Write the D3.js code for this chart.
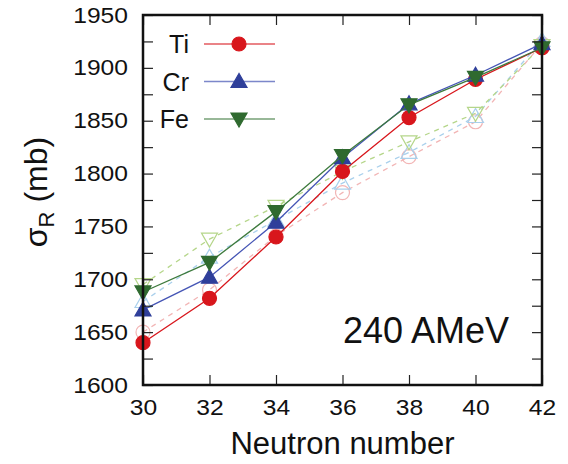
<!DOCTYPE html>
<html>
<head>
<meta charset="utf-8">
<script src="https://cdn.jsdelivr.net/npm/d3@7.9.0/dist/d3.min.js"></script>
<style>
  body { margin: 0; background: #fff; }
  text { font-family: "Liberation Sans", Arial, sans-serif; fill: #111; }
</style>
</head>
<body>
<svg id="chart" width="568" height="464"></svg>
<script>
// Neutron numbers and cross sections (mb)
const neutrons = [30, 32, 34, 36, 38, 40, 42];
const tiSolid = [1640, 1682, 1740, 1802, 1853, 1889, 1919];
const crSolid = [1671, 1702, 1754, 1815, 1866, 1893, 1923];
const feSolid = [1688, 1716, 1764, 1817, 1865, 1891, 1919];
const tiDashed = [1650, 1690, 1741, 1782, 1816, 1849, 1923];
const crDashed = [1679, 1721, 1756, 1791, 1820, 1854, 1926];
const feDashed = [1695, 1738, 1769, 1802, 1830, 1857, 1921];
const yTicks = [1600, 1650, 1700, 1750, 1800, 1850, 1900, 1950];

const svg = d3.select("#chart");
const plotL = 143, plotR = 542, plotT = 15, plotB = 385;
const stretch = 1.12; // reference font is a bit wider than Liberation Sans

const x = d3.scaleLinear().domain([30, 42]).range([plotL, plotR]);
const y = d3.scaleLinear().domain([1600, 1950]).range([plotB, plotT]);

// light (dashed) series first, then solid
const series = [
  { name: "Ti", vals: tiDashed, color: "#f2b5b5", shape: "circle", open: true, dash: "5,5" },
  { name: "Cr", vals: crDashed, color: "#a9d0ec", shape: "up", open: true, dash: "5,5" },
  { name: "Fe", vals: feDashed, color: "#b5d68a", shape: "down", open: true, dash: "5,5" },
  { name: "Ti", vals: tiSolid, color: "#d8161c", shape: "circle", open: false, legend: true },
  { name: "Cr", vals: crSolid, color: "#2f3f9a", line: "#4555b5", shape: "up", open: false, legend: true },
  { name: "Fe", vals: feSolid, color: "#2f6a2f", line: "#3d7a3d", shape: "down", open: false, legend: true }
];

function drawMarker(g, shape, cx, cy, color, open) {
  if (shape === "circle") {
    g.append("circle").attr("cx", cx).attr("cy", cy).attr("r", 7)
      .attr("fill", open ? "none" : color).attr("stroke", color).attr("stroke-width", 1.2);
  } else {
    const s = 8, dir = shape === "up" ? 1 : -1;
    const pts = [[cx, cy - dir * s], [cx - s, cy + dir * s * 0.75], [cx + s, cy + dir * s * 0.75]];
    g.append("path").attr("d", "M" + pts.join("L") + "Z")
      .attr("fill", open ? "none" : color).attr("stroke", color).attr("stroke-width", 1.2);
  }
}

const line = d3.line().x((d, i) => x(neutrons[i])).y(d => y(d));
const plot = svg.append("g");
series.forEach(s => {
  plot.append("path").attr("d", line(s.vals)).attr("fill", "none")
    .attr("stroke", s.line || s.color).attr("stroke-width", 1.3)
    .attr("stroke-dasharray", s.dash || null);
  s.vals.forEach((v, i) => drawMarker(plot, s.shape, x(neutrons[i]), y(v), s.color, s.open));
});

// axes with inward ticks
const minor = d3.range(1600, 1951, 25);
svg.append("g").attr("transform", `translate(0,${plotB})`)
  .call(d3.axisBottom(x).tickValues(neutrons).tickSize(-10).tickPadding(14))
  .call(g => g.select(".domain").remove())
  .call(g => g.selectAll("text").attr("font-size", 22).attr("transform", `scale(${stretch},1)`));
svg.append("g").attr("transform", `translate(0,${plotT})`)
  .call(d3.axisTop(x).tickValues(neutrons).tickSize(-10).tickFormat(""))
  .call(g => g.select(".domain").remove());
svg.append("g").attr("transform", `translate(${plotL},0)`)
  .call(d3.axisLeft(y).tickValues(minor).tickSize(-10)
    .tickFormat(d => yTicks.includes(d) ? d : ""))
  .call(g => g.select(".domain").remove())
  .call(g => g.selectAll("text").attr("font-size", 22)
    .attr("x", -15 / stretch).attr("transform", `scale(${stretch},1)`));
svg.append("g").attr("transform", `translate(${plotR},0)`)
  .call(d3.axisRight(y).tickValues(minor).tickSize(-10).tickFormat(""))
  .call(g => g.select(".domain").remove());
svg.selectAll(".tick line").attr("stroke", "#222").attr("stroke-width", 1.2);

svg.append("rect").attr("x", plotL).attr("y", plotT)
  .attr("width", plotR - plotL).attr("height", plotB - plotT)
  .attr("fill", "none").attr("stroke", "#111").attr("stroke-width", 2.5);

// legend
const legendRows = series.filter(s => s.legend);
legendRows.forEach((s, i) => {
  const ly = 44 + i * 37.5;
  svg.append("text").attr("x", 189).attr("y", ly).attr("dy", "0.36em")
    .attr("text-anchor", "end").attr("font-size", 25).text(s.name);
  svg.append("line").attr("x1", 204).attr("x2", 275).attr("y1", ly).attr("y2", ly)
    .attr("stroke", s.line || s.color).attr("stroke-width", 1.3).attr("opacity", 0.7);
  drawMarker(svg, s.shape, 239, ly, s.color, false);
});

// annotation and titles
svg.append("text").attr("x", 343).attr("y", 343).attr("font-size", 36).text("240 AMeV");
svg.append("text").attr("x", (plotL + plotR) / 2).attr("y", 454)
  .attr("text-anchor", "middle").attr("font-size", 31).text("Neutron number");
const yl = svg.append("text").attr("transform", "translate(47,192) rotate(-90)")
  .attr("text-anchor", "middle").attr("font-size", 32);
yl.append("tspan").text("σ");
yl.append("tspan").attr("font-size", 22).attr("dy", 7).text("R");
yl.append("tspan").attr("dy", -7).text(" (mb)");
</script>
</body>
</html>
